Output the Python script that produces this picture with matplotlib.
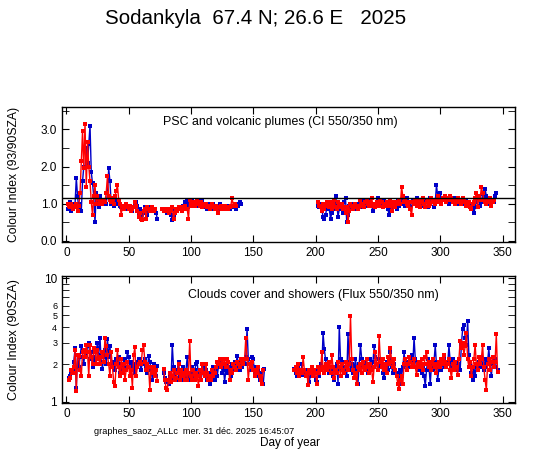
import numpy as np
import matplotlib
matplotlib.use('Agg')
import matplotlib.pyplot as plt
from matplotlib.ticker import FixedLocator, FixedFormatter, MultipleLocator, FormatStrFormatter

plt.rcParams['font.family'] = ['Liberation Sans', 'DejaVu Sans']

nan = np.nan

# ---- top panel: colour index 550/350 nm (93/90 SZA) ----
ci_start_a = 1
ci_blue_a = [0.85, 0.95, 1.05, 0.8, 0.85, 0.9, 1.0, 1.7, 1.2, 0.85, 1.0, 0.8, 1.6, 2.0, 1.95,
             2.5, 2.1, 2.6, 3.1, 1.85, 1.55, 1.2, 0.5, 1.3, 1.05, 0.9, 1.2, 1.1, 1.05, 1.1,
             1.05, 1.0, 1.3, 1.95, 1.6, 1.0, 1.1, 0.95, 1.05, 1.1, 1.0, 1.0, 0.95, 0.9, 0.85,
             0.95, 0.9, 0.95, 0.85, 0.9, 0.95, 0.85, 0.8, 0.9, 0.95, 1.05, 0.95, 0.75, 0.85, 0.7,
             0.55, 0.75, 0.9, 0.85, 0.7, 0.9, 0.85, 0.8, 0.9, 0.85, 0.8, 0.75, 0.6, nan, nan,
             nan, nan, 0.85, 0.8, 0.85, 0.75, 0.8, 0.85, 0.7, 0.55, 0.65, 0.8, 0.85, 0.8, 0.9,
             0.85, 0.9, 0.85, 0.95, 1.05, 0.95, 1.1, 0.9, 1.0, 0.95, 1.1, 1.05, 1.0, 0.95, 1.1,
             1.1, 1.0, 0.95, 1.1, 1.0, 0.9, 0.95, 0.85, 1.0, 0.95, 0.85, 0.9, 1.0, 0.95, 0.9,
             0.95, 0.85, 1.0, 0.9, 0.85, 0.9, 0.95, 0.85, 0.9, 0.95, 0.85, 0.9, 0.95, 0.9, 0.95,
             0.85, 1.0, 0.95, 1.05, 1.0]
ci_red_a = [1.0, 0.95, 0.9, 1.0, 0.85, 0.95, 0.9, 1.0, 0.8, 0.95, 1.3, 2.15, 2.95, 1.95, 3.15,
            1.45, 2.65, 2.0, 1.6, 1.05, 0.7, 1.2, 1.5, 1.0, 1.2, 1.0, 1.1, 1.05, 1.0, 1.1,
            1.05, 1.3, 1.75, 1.2, 1.1, 1.05, 1.15, 1.0, 1.2, 1.35, 1.5, 1.1, 1.0, 0.7, 0.95,
            0.85, 0.9, 1.0, 0.9, 0.85, 0.95, 0.8, 0.85, 0.9, 1.05, 0.95, 0.8, 0.65, 0.75, 0.6,
            0.55, 0.8, 0.85, 0.6, 0.9, 0.85, 0.8, 0.85, 0.9, 0.8, 0.85, nan, nan, nan, nan,
            nan, 0.85, 0.8, 0.85, 0.8, 0.85, 0.75, 0.8, 0.85, 0.9, 0.6, 0.75, 0.85, 0.8, 0.9,
            0.85, 0.9, 0.8, 0.9, 0.95, 0.85, 0.85, 0.6, 1.1, 0.95, 1.0, 1.05, 0.95, 1.0, 1.1,
            1.0, 0.95, 1.05, 0.9, 1.0, 0.95, 1.0, 0.9, 0.95, 0.85, 0.95, 1.0, 0.9, 0.85, 0.95,
            0.9, 0.75, 0.9, 0.95, 0.85, 0.9, 0.95, 0.85, 0.9, 0.85, 0.9, 0.95, 1.15, 0.95, 1.0,
            0.95]
ci_start_b = 202
ci_blue_b = [0.95, 0.9, 1.0, 0.85, 0.65, 0.6, 0.7, 0.9, 0.95, 0.85, 0.6, 0.75, 0.85, 1.0, 1.2,
             1.0, 0.65, 0.85, 0.9, 0.95, 0.75, 1.05, 1.15, 0.5, 0.7, 0.95, 0.85, 1.0, 0.9, 0.95,
             0.85, 1.0, 0.9, 0.95, 1.05, 0.9, 1.0, 1.1, 0.95, 1.0, 1.05, 1.1, 1.0, 0.95, 0.8,
             0.9, 1.0, 1.05, 1.15, 0.95, 1.0, 1.05, 0.9, 1.1, 0.95, 1.0, 0.85, 0.7, 1.0, 0.9,
             1.05, 0.95, 1.0, 0.85, 1.1, 0.95, 1.05, 1.0, 1.1, 1.0, 0.95, 1.15, 1.05, 1.0, 0.9,
             1.05, 1.1, 1.0, 1.05, 1.15, 1.0, 0.95, 1.1, 1.05, 1.0, 0.95, 1.1, 1.05, 0.9, 1.0,
             1.15, 1.05, 1.1, 0.9, 1.05, 1.5, 1.2, 1.1, 1.3, 1.05, 1.15, 1.1, 1.2, 1.05, 1.1,
             1.0, 1.15, 1.1, 1.05, 1.15, 1.1, 1.0, 1.05, 1.1, 1.0, 1.05, 1.15, 1.05, 1.0, 1.1,
             1.0, 1.05, 0.95, 0.9, 0.85, 0.75, 0.9, 1.05, 1.2, 1.1, 0.95, 1.05, 1.25, 1.1, 1.4,
             1.2, 1.0, 1.1, 1.05, 1.0, 1.1, 1.05, 1.2, 1.3]
ci_red_b = [1.05, 0.95, 0.9, 0.8, 1.0, 0.85, 0.95, 1.05, 1.0, 0.9, 1.05, 0.85, 0.95, 1.1, 0.9,
            0.85, 1.05, 0.9, 0.95, 1.0, 0.85, 0.9, 0.75, 0.9, 0.5, 0.8, 1.0, 0.95, 0.85, 0.9,
            1.0, 0.95, 0.85, 0.9, 1.1, 1.0, 0.95, 0.9, 1.05, 1.1, 1.0, 0.95, 1.05, 1.15, 0.95,
            1.0, 0.9, 1.05, 1.0, 0.95, 1.1, 1.05, 0.9, 1.0, 0.95, 1.05, 1.0, 0.95, 1.1, 0.8,
            1.0, 1.05, 0.9, 1.0, 1.05, 1.1, 1.0, 1.45, 1.2, 1.05, 1.1, 1.0, 0.95, 1.05, 0.85,
            0.7, 1.05, 1.0, 1.1, 0.95, 1.0, 1.1, 0.9, 1.05, 1.15, 1.0, 0.9, 1.05, 1.1, 0.95,
            1.0, 1.15, 1.1, 1.05, 1.0, 1.1, 1.2, 1.05, 1.1, 1.0, 1.15, 1.1, 1.2, 1.05, 1.15,
            1.1, 1.2, 1.15, 1.05, 1.1, 1.0, 1.05, 1.15, 1.1, 1.05, 1.0, 1.15, 1.1, 1.05, 0.95,
            1.0, 1.05, 0.9, 0.85, 1.0, 1.05, 1.15, 1.3, 0.9, 1.2, 1.1, 1.45, 1.3, 1.1, 1.05,
            1.0, 1.1, 1.05, 1.15, 0.95, 1.05, 1.1]
ci_ref_line = 1.15

# ---- bottom panel: flux ratio 550/350 nm (90 SZA) ----
fx_start_a = 2
fx_blue_a = [1.55, 1.6, 1.75, 1.8, 2.1, 2.7, 1.3, 2.4, 1.9, 2.3, 2.8, 2.5, 2.0, 2.6, 2.4,
             2.8, 3.0, 2.2, 2.5, 1.9, 2.3, 2.0, 2.6, 3.0, 2.4, 3.3, 2.1, 1.85, 2.3, 2.6,
             2.0, 3.2, 2.3, 2.8, 2.0, 1.9, 2.1, 1.8, 2.2, 2.0, 2.3, 1.7, 2.0, 1.8, 2.2,
             1.9, 2.1, 2.5, 2.3, 1.9, 2.1, 1.8, 2.0, 1.7, 1.9, 2.1, 2.2, 2.0, 1.8, 2.1,
             2.0, 2.2, 1.9, 1.7, 2.35, 2.1, 1.8, 1.5, 2.0, 1.7, 1.6, 1.95, nan, nan, nan,
             nan, 1.7, 1.55, 1.45, 1.5, 1.4, 1.6, 1.5, 2.9, 1.9, 1.6, 1.5, 1.8, 2.1, 1.6,
             1.5, 1.7, 1.9, 1.6, 1.8, 2.3, 1.6, 1.5, 1.7, 1.9, 1.55, 1.8, 2.0, 2.1, 1.6,
             1.8, 1.5, 1.7, 1.9, 1.6, 1.8, 1.5, 1.6, 1.4, 1.7, 1.6, 1.9, 1.5, 1.8, 1.6,
             1.9, 2.0, 2.2, 1.7, 1.9, 1.45, 1.8, 2.0, 1.7, 1.9, 1.6, 2.0, 1.8, 2.1, 1.9,
             2.35, 2.0, 1.8, 2.1, 1.9, 2.2, 2.0, 2.3, 3.9, 2.2, 2.0, 1.8, 2.3, 2.2, 1.7,
             1.9, 1.6, 1.8, 1.5, 1.7, 1.5, 1.4, 1.85]
fx_red_a = [1.5, 1.55, 1.8, 1.7, 1.9, 2.6, 1.22, 2.4, 2.35, 1.8, 1.6, 2.5, 2.6, 2.3, 2.85,
            2.5, 1.6, 2.9, 2.3, 2.0, 2.7, 2.5, 2.0, 2.6, 2.2, 2.0, 2.3, 2.5, 2.1, 3.3,
            2.8, 2.4, 2.0, 1.6, 2.5, 1.9, 1.45, 1.35, 2.0, 2.6, 1.9, 1.6, 2.2, 1.7, 2.0,
            1.5, 1.8, 2.1, 1.9, 1.6, 1.8, 1.3, 2.4, 2.75, 1.6, 1.9, 2.0, 2.1, 2.0, 2.6,
            2.85, 2.1, 1.8, 2.0, 1.9, 1.25, 1.9, 1.7, 1.9, 1.6, 1.8, 1.47, nan, nan, nan,
            nan, 1.85, 1.5, 1.3, 1.25, 1.5, 1.7, 1.45, 1.6, 1.8, 1.5, 1.55, 1.7, 2.0, 1.5,
            1.8, 1.6, 1.7, 1.5, 1.8, 1.5, 1.7, 3.1, 1.6, 1.5, 1.8, 1.5, 1.7, 1.6, 1.35,
            1.8, 1.5, 2.0, 1.7, 1.6, 2.0, 1.7, 1.5, 1.6, 1.5, 1.8, 1.6, 1.7, 1.9, 2.1,
            2.0, 2.2, 1.9, 2.2, 2.0, 2.2, 1.9, 2.2, 2.1, 1.5, 1.8, 1.7, 2.0, 1.9, 1.8,
            2.1, 2.0, 1.9, 2.2, 2.1, 2.0, 2.2, 3.3, 2.2, 1.5, 2.0, 1.9, 2.1, 1.8, 1.6,
            1.8, 1.7, 1.9, 1.6, 1.5, 1.4, 1.8]
fx_start_b = 183
fx_blue_b = [1.85, 1.7, 1.6, 1.9, 1.8, 1.7, 2.0, 1.65, 1.8, 1.6, 1.7, 1.8, 1.45, 1.7, 1.6,
             1.8, 1.7, 1.5, 1.45, 1.8, 1.6, 2.0, 1.9, 3.6, 2.65, 2.2, 1.8, 2.0, 1.7, 1.9,
             1.8, 1.6, 1.5, 1.9, 2.0, 1.4, 4.05, 2.2, 1.8, 2.1, 1.7, 1.9, 1.6, 3.5, 2.1,
             1.8, 2.0, 1.7, 1.9, 2.2, 1.8, 1.4, 2.0, 2.9, 2.2, 1.9, 2.1, 1.8, 2.0, 1.7,
             1.9, 2.2, 1.8, 2.1, 2.8, 2.3, 2.0, 1.8, 2.2, 1.9, 2.0, 1.7, 1.55, 1.9, 2.1,
             1.8, 2.0, 2.5, 1.9, 1.7, 2.0, 1.8, 1.6, 1.7, 1.4, 1.8, 1.6, 1.9, 2.5, 2.0,
             1.8, 2.1, 1.9, 2.2, 2.4, 2.0, 3.3, 2.2, 1.9, 2.1, 1.8, 2.0, 1.7, 1.9, 1.6,
             1.35, 1.8, 2.2, 1.9, 1.4, 2.0, 1.8, 2.1, 2.85, 2.0, 1.5, 1.9, 2.1, 1.8, 2.0,
             2.2, 1.9, 2.1, 2.0, 2.85, 2.1, 1.9, 2.2, 2.0, 1.8, 2.1, 1.9, 2.0, 1.8, 2.9,
             3.9, 4.2, 3.3, 2.9, 4.5, 2.4, 2.0, 1.7, 1.5, 1.9, 1.6, 2.0, 1.8, 2.1, 1.9,
             2.3, 2.0, 1.8, 2.2, 1.9, 2.1, 2.7, 2.0, 1.6, 2.1, 1.9, 2.2, 1.9, 1.8]
fx_red_b = [1.8, 1.9, 1.7, 2.0, 1.6, 1.8, 1.7, 2.3, 1.8, 1.6, 1.7, 1.37, 1.8, 1.7, 1.9,
            1.6, 1.8, 1.7, 1.4, 1.9, 1.7, 1.8, 2.5, 1.9, 1.7, 2.0, 1.8, 1.9, 2.1, 1.7,
            2.4, 1.9, 1.55, 1.8, 1.7, 2.1, 1.9, 1.6, 2.0, 1.8, 1.7, 2.1, 1.9, 1.8, 2.0,
            4.97, 2.2, 1.8, 1.55, 1.7, 1.4, 1.9, 1.8, 2.0, 1.7, 2.1, 1.9, 1.8, 2.2, 1.9,
            1.7, 2.0, 1.8, 1.45, 1.9, 2.5, 2.0, 1.8, 3.4, 2.1, 1.9, 2.2, 1.8, 2.0, 1.7,
            2.3, 2.0, 2.7, 2.1, 1.9, 2.2, 1.8, 1.6, 1.4, 1.27, 1.5, 1.6, 1.4, 2.0, 2.2,
            1.8, 2.0, 2.3, 2.1, 1.9, 2.0, 2.2, 1.9, 1.65, 2.0, 2.1, 1.9, 2.2, 1.8, 2.0,
            2.3, 2.5, 2.0, 1.9, 2.1, 1.8, 2.2, 2.0, 1.9, 1.7, 2.0, 2.1, 1.9, 2.2, 2.0,
            2.4, 2.1, 1.9, 2.0, 2.2, 1.8, 1.55, 2.0, 1.8, 2.1, 1.9, 1.65, 2.2, 3.1, 2.7,
            3.0, 2.4, 2.8, 3.6, 2.2, 1.9, 2.1, 1.6, 1.9, 2.2, 2.9, 2.0, 1.8, 2.3, 2.0,
            2.2, 2.9, 1.9, 1.5, 1.25, 2.0, 2.2, 1.8, 2.1, 2.3, 1.9, 2.1, 3.5, 1.75]

blue = '#0000c8'
red = '#ff0000'


def days(start, vals):
    return start + np.arange(len(vals))


def draw(ax, start, vals, color):
    ax.plot(days(start, vals), vals, '-s', color=color, lw=1.0, ms=2.8, mew=0)


def style(ax):
    ax.set_xlim(-3.5, 360)
    ax.xaxis.set_major_locator(MultipleLocator(50))
    ax.tick_params(which='both', direction='in', top=True, right=True, labelsize=8.5)
    ax.tick_params(which='major', length=5)
    ax.tick_params(which='minor', length=5)
    for s in ax.spines.values():
        s.set_linewidth(1.0)


fig = plt.figure(figsize=(5.47, 4.55), dpi=100)

ax1 = fig.add_axes([0.1133, 0.468, 0.8282, 0.2967])
draw(ax1, ci_start_a, ci_blue_a, blue)
draw(ax1, ci_start_b, ci_blue_b, blue)
draw(ax1, ci_start_a, ci_red_a, red)
draw(ax1, ci_start_b, ci_red_b, red)
ax1.axhline(ci_ref_line, color='black', lw=1.0)
style(ax1)
ax1.set_ylim(-0.03, 3.6)
ax1.yaxis.set_major_locator(MultipleLocator(1.0))
ax1.yaxis.set_minor_locator(MultipleLocator(0.5))
ax1.yaxis.set_major_formatter(FormatStrFormatter('%.1f'))
ax1.set_ylabel('Colour Index (93/90SZA)', fontsize=8.7)
ax1.yaxis.set_label_coords(-0.093, 0.5)
ax1.text(0.483, 0.89, 'PSC and volcanic plumes (CI 550/350 nm)', transform=ax1.transAxes,
         ha='center', va='center', fontsize=8.9)

ax2 = fig.add_axes([0.1133, 0.1143, 0.8282, 0.2791])
draw(ax2, fx_start_a, fx_blue_a, blue)
draw(ax2, fx_start_b, fx_blue_b, blue)
draw(ax2, fx_start_a, fx_red_a, red)
draw(ax2, fx_start_b, fx_red_b, red)
ax2.set_yscale('log')
style(ax2)
ax2.set_ylim(0.975, 10.4)
ax2.yaxis.set_major_locator(FixedLocator([1, 10]))
ax2.yaxis.set_major_formatter(FixedFormatter(['1', '10']))
ax2.yaxis.set_minor_locator(FixedLocator([2, 3, 4, 5, 6, 7, 8, 9]))
ax2.yaxis.set_minor_formatter(FixedFormatter(['2', '3', '4', '5', '6', '', '', '']))
ax2.tick_params(axis='y', which='minor', labelsize=6.5, length=5)
ax2.set_ylabel('Colour Index (90SZA)', fontsize=9)
ax2.yaxis.set_label_coords(-0.093, 0.5)
ax2.text(0.554, 0.85, 'Clouds cover and showers (Flux 550/350 nm)', transform=ax2.transAxes,
         ha='center', va='center', fontsize=8.9)

fig.text(0.468, 0.96, 'Sodankyla  67.4 N; 26.6 E   2025', ha='center', va='center', fontsize=14.8)
fig.text(0.172, 0.051, 'graphes_saoz_ALLc  mer. 31 déc. 2025 16:45:07', ha='left', va='center',
         fontsize=6.6)
fig.text(0.53, 0.027, 'Day of year', ha='center', va='center', fontsize=8.5)

plt.savefig('out.png', dpi=100)
plt.close()
